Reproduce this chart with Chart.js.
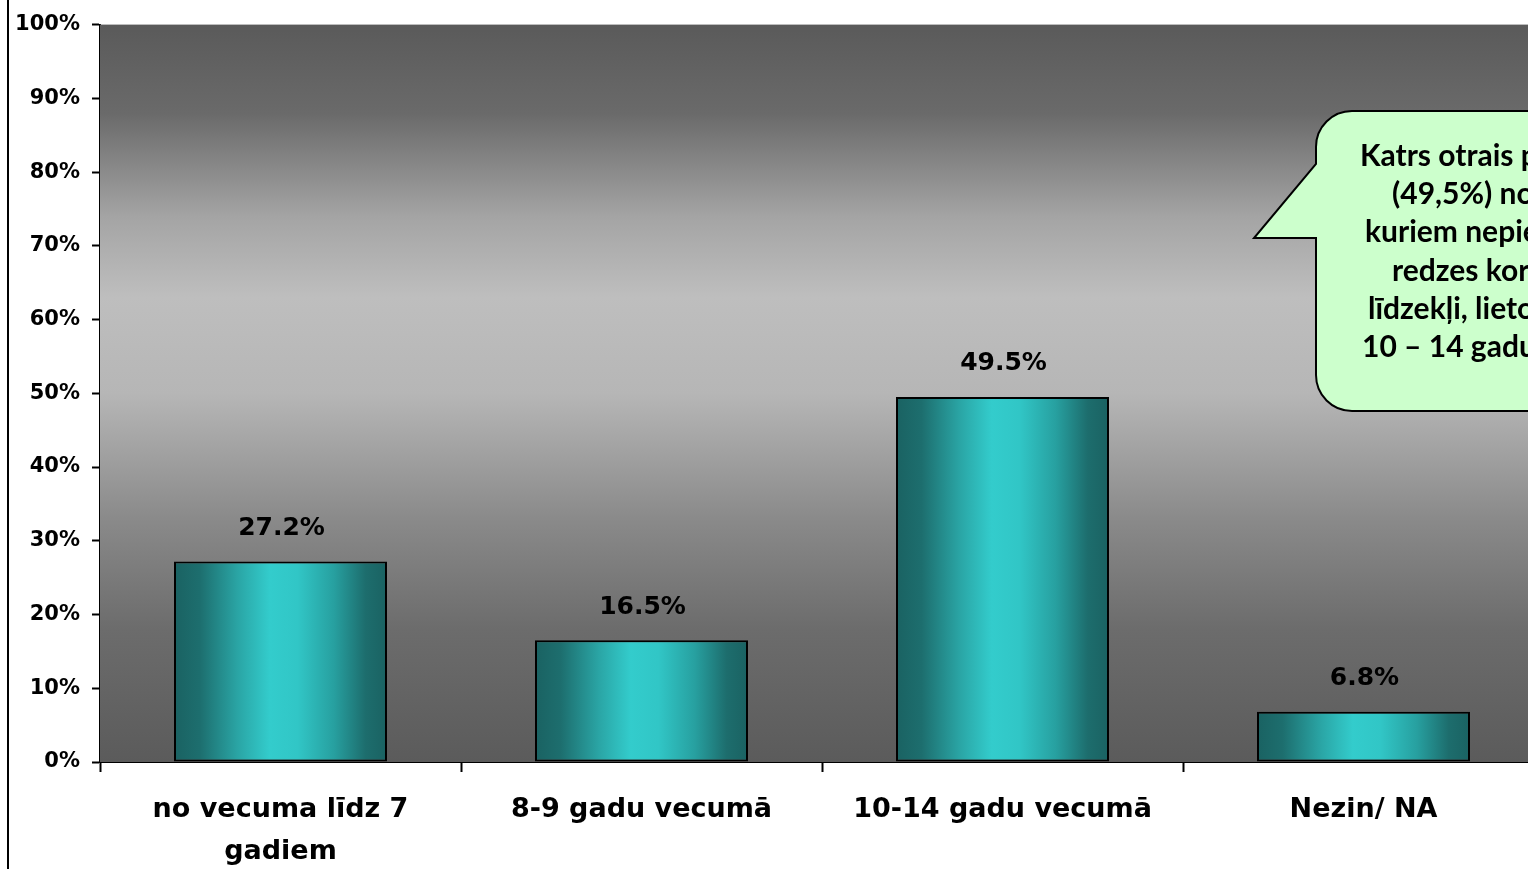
<!DOCTYPE html>
<html><head><meta charset="utf-8">
<script src="https://cdn.jsdelivr.net/npm/chart.js@4"></script>
<style>
html,body{margin:0;padding:0;background:#fff;overflow:hidden;width:1528px;height:869px}
#wrap{position:absolute;left:0;top:0;width:1560px;height:869px}
</style></head>
<body><div id="wrap"><canvas id="c" width="1560" height="869"></canvas></div>
<script>
const categories = [['no vecuma līdz 7', 'gadiem'], '8-9 gadu vecumā', '10-14 gadu vecumā', 'Nezin/ NA'];
const values = [27.2, 16.5, 49.5, 6.8];
const yTickValues = [0, 10, 20, 30, 40, 50, 60, 70, 80, 90, 100];
const calloutLines = ['Katrs otrais pusaudzis', '(49,5%) no tiem,', 'kuriem nepieciešami', 'redzes korekcijas', 'līdzekļi, lietot tos', '10 – 14 gadu vecumā'];

const FONT = '"DejaVu Sans", "Liberation Sans", Arial, sans-serif';

const bgPlugin = {
  id: 'plotBg',
  beforeDatasetsDraw(chart) {
    const { ctx, chartArea: a } = chart;
    ctx.save();
    const g = ctx.createLinearGradient(0, a.top, 0, a.bottom);
    g.addColorStop(0, '#5a5a5a');
    g.addColorStop(0.12, '#6a6a6a');
    g.addColorStop(0.26, '#a4a4a4');
    g.addColorStop(0.37, '#bebebe');
    g.addColorStop(0.5, '#b6b6b6');
    g.addColorStop(0.67, '#8a8a8a');
    g.addColorStop(0.82, '#6c6c6c');
    g.addColorStop(1, '#5b5b5b');
    ctx.fillStyle = g;
    ctx.fillRect(a.left, a.top, a.right - a.left, a.bottom - a.top);
    ctx.restore();
  }
};

const labelPlugin = {
  id: 'valueLabels',
  afterDatasetsDraw(chart) {
    const { ctx } = chart;
    const meta = chart.getDatasetMeta(0);
    ctx.save();
    ctx.font = 'bold 25px ' + FONT;
    ctx.fillStyle = '#000';
    ctx.textAlign = 'center';
    ctx.textBaseline = 'middle';
    meta.data.forEach((bar, i) => {
      ctx.fillText(values[i].toFixed(1) + '%', bar.x + 1, bar.y - 33);
    });
    ctx.restore();
  }
};

const framePlugin = {
  id: 'frame',
  afterDraw(chart) {
    const { ctx } = chart;
    ctx.save();
    ctx.strokeStyle = '#000';
    ctx.lineWidth = 2;
    ctx.beginPath();
    ctx.moveTo(8, 0);
    ctx.lineTo(8, chart.height);
    ctx.stroke();
    // callout
    const L = 1316, T = 111, B = 411, R = 1620, r = 36;
    ctx.beginPath();
    ctx.moveTo(L + r, T);
    ctx.lineTo(R, T);
    ctx.lineTo(R, B);
    ctx.lineTo(L + r, B);
    ctx.arcTo(L, B, L, B - r, r);
    ctx.lineTo(L, 238);
    ctx.lineTo(1254, 238);
    ctx.lineTo(L, 164);
    ctx.lineTo(L, T + r);
    ctx.arcTo(L, T, L + r, T, r);
    ctx.closePath();
    ctx.fillStyle = '#ccffcc';
    ctx.fill();
    ctx.stroke();
    ctx.fillStyle = '#000';
    ctx.font = 'bold 30px Lato, "Open Sans", sans-serif';
    ctx.textAlign = 'left';
    ctx.textBaseline = 'middle';
    const starts = [1360, 1392, 1365, 1392, 1368, 1362];
    calloutLines.forEach((t, i) => ctx.fillText(t, starts[i], 156 + i * 38.3));
    ctx.restore();
  }
};

new Chart(document.getElementById('c'), {
  type: 'bar',
  data: {
    labels: categories,
    datasets: [{
      data: values,
      borderColor: '#000',
      borderWidth: 2,
      borderSkipped: false,
      categoryPercentage: 1,
      barPercentage: 0.59,
      backgroundColor: (c) => {
        const chart = c.chart;
        const xs = chart.scales.x;
        if (!chart.chartArea || !xs || c.type !== 'data') return '#33cccc';
        const cx = xs.getPixelForValue(c.dataIndex);
        const w = (xs.width / categories.length) * 0.59;
        const g = chart.ctx.createLinearGradient(cx - w / 2, 0, cx + w / 2, 0);
        g.addColorStop(0, '#1a6262');
        g.addColorStop(0.12, '#1d6e6e');
        g.addColorStop(0.3, '#2aa5a5');
        g.addColorStop(0.45, '#33cccc');
        g.addColorStop(0.58, '#31c6c6');
        g.addColorStop(0.75, '#27a0a0');
        g.addColorStop(0.9, '#1d6d6d');
        g.addColorStop(1, '#1a6262');
        return g;
      }
    }]
  },
  options: {
    responsive: false,
    animation: false,
    devicePixelRatio: 1,
    layout: { padding: { left: 0, top: 22, right: 16, bottom: 0 } },
    plugins: { legend: { display: false }, tooltip: { enabled: false }, title: { display: false } },
    scales: {
      x: {
        grid: { drawOnChartArea: false, offset: true, tickLength: 10, tickColor: '#000', tickWidth: 2 },
        border: { display: true, color: '#000', width: 2 },
        ticks: {
          color: '#000',
          padding: 17,
          maxRotation: 0,
          autoSkip: false,
          font: { family: FONT, size: 27, weight: 'bold', lineHeight: 1.55 }
        },
        afterFit: (s) => { s.height = 107; }
      },
      y: {
        min: 0, max: 100,
        afterBuildTicks: (s) => { s.ticks = yTickValues.map(v => ({ value: v })); },
        grid: { drawOnChartArea: false, tickLength: 8, tickColor: '#000', tickWidth: 2 },
        border: { display: true, color: '#000', width: 2 },
        ticks: {
          color: '#000',
          padding: 12,
          callback: (v) => v + '%',
          font: { family: FONT, size: 21, weight: 'bold' }
        },
        afterFit: (s) => { s.width = 100; }
      }
    }
  },
  plugins: [bgPlugin, labelPlugin, framePlugin]
});
</script>
</body></html>
